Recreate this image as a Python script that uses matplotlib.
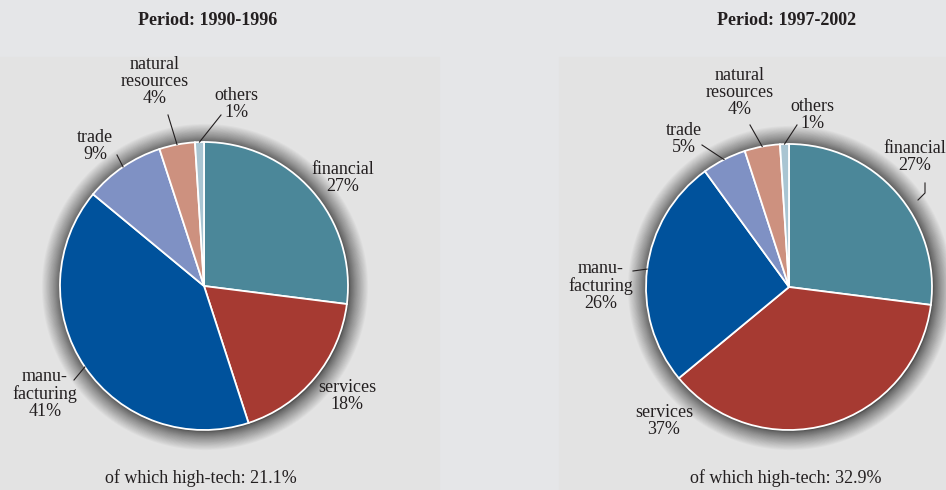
import numpy as np
import matplotlib.pyplot as plt
from matplotlib.patches import Circle, Rectangle

sectors = ["financial", "services", "manu-\nfacturing", "trade", "natural\nresources", "others"]
share_9096 = [27, 18, 41, 9, 4, 1]
share_9702 = [27, 37, 26, 5, 4, 1]
hightech = [21.1, 32.9]
titles = ["Period: 1990-1996", "Period: 1997-2002"]
colors = ["#4b8799", "#a63a32", "#00529c", "#7f91c4", "#cd917f", "#a9c5d2"]

W, H = 946, 490
plt.rcParams['font.family'] = ['Liberation Serif', 'DejaVu Serif']

fig = plt.figure(figsize=(W / 100, H / 100), dpi=100)
fig.patch.set_facecolor("#e5e6e8")
ax = fig.add_axes([0, 0, 1, 1])
ax.set_xlim(0, W)
ax.set_ylim(0, H)
ax.set_aspect("equal")
ax.axis("off")


def Y(y):
    # image row -> data y
    return H - y


# slightly darker panels behind the pies
ax.add_patch(Rectangle((0, 0), 439, Y(57), color="#e3e3e3", zorder=0))
ax.add_patch(Rectangle((559, 0), W - 559, Y(57), color="#e3e3e3", zorder=0))

# layout: pie centre/radius, title/footnote x, label text positions, leader start points
panels = [
    dict(c=(204, Y(286)), r=144, tx=208, fx=201,
         text=[(343, 178), (347, 396), (45, 394), (95, 146), (155, 82), (236, 104)],
         lead=[None, None, (74, 380), (117, 155), (168, 115), (221, 115)]),
    dict(c=(789, Y(287)), r=143, tx=787, fx=786,
         text=[(915, 157), (664, 421), (601, 286), (684, 139), (740, 93), (812, 115)],
         lead=[None, None, (633, 271), (702, 145), (750, 125), (797, 125)]),
]

for p, vals, title, ht in zip(panels, [share_9096, share_9702], titles, hightech):
    cx, cy = p["c"]
    r = p["r"]
    # soft shadow around the pie, denser close to the edge
    n = 40
    for k in range(n):
        d = 20 * (k / n) ** 1.8
        ax.add_patch(Circle((cx + 1, cy - 1), r + d, color="black", alpha=0.022, lw=0, zorder=1))
    wedges, _ = ax.pie(vals, colors=colors, startangle=90, counterclock=False,
                       center=(cx, cy), radius=r, frame=True,
                       wedgeprops=dict(edgecolor="white", linewidth=1.3))
    for w in wedges:
        w.set_zorder(2)

    for i, (lab, v) in enumerate(zip(sectors, vals)):
        tx, ty = p["text"][i]
        ax.text(tx, Y(ty), f"{lab}\n{v}%", ha="center", va="center", fontsize=13,
                linespacing=1.0, color="#231f20", zorder=3)
        if p["lead"][i] is not None:
            w = wedges[i]
            mid = np.deg2rad((w.theta1 + w.theta2) / 2)
            ex, ey = cx + r * np.cos(mid), cy + r * np.sin(mid)
            sx, sy = p["lead"][i]
            ax.plot([sx, ex], [Y(sy), ey], color="#231f20", lw=0.8, zorder=3)

    ax.text(p["tx"], Y(21), title, ha="center", va="center", fontsize=13,
            fontweight="bold", color="#231f20")
    ax.text(p["fx"], Y(478), f"of which high-tech: {ht}%", ha="center", va="center",
            fontsize=13, color="#231f20")

# bent leader for the clipped 'financial' label on the right
ax.plot([925, 925, 918], [Y(183), Y(193), Y(200)], color="#231f20", lw=0.8, zorder=3)

ax.set_xlim(0, W)
ax.set_ylim(0, H)
ax.axis("off")
fig.savefig("out.png", dpi=100, facecolor=fig.get_facecolor())
